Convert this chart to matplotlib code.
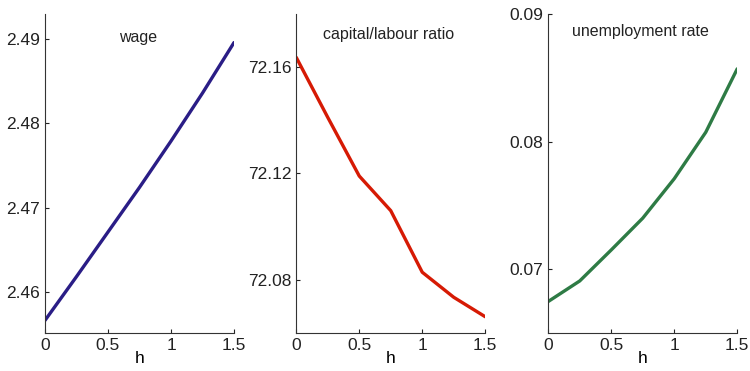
import matplotlib
matplotlib.use("Agg")
import matplotlib.pyplot as plt

plt.rcParams['font.family'] = ['Liberation Sans', 'DejaVu Sans']

h = [0, 0.25, 0.5, 0.75, 1.0, 1.25, 1.5]
wage = [2.4566, 2.4618, 2.4671, 2.4724, 2.4779, 2.4836, 2.4896]
kl_ratio = [72.1635, 72.141, 72.119, 72.106, 72.0829, 72.0735, 72.0662]
unemp = [0.06747, 0.06908, 0.07151, 0.0740, 0.07709, 0.08073, 0.0857]

panels = [
    (wage, '#2a1d86', 'wage', (2.4551, 2.493), [2.46, 2.47, 2.48, 2.49], 0.925),
    (kl_ratio, '#d61a04', 'capital/labour ratio', (72.0601, 72.1798), [72.08, 72.12, 72.16], 0.937),
    (unemp, '#2e7b45', 'unemployment rate', (0.065, 0.09), [0.07, 0.08, 0.09], 0.944),
]
lefts = [0.06, 0.395, 0.731]

fig = plt.figure(figsize=(7.5, 3.71), dpi=100)
for (y, col, title, ylim, yt, ty), left in zip(panels, lefts):
    ax = fig.add_axes([left, 0.1024, 0.252, 0.86])
    ax.plot(h, y, color=col, linewidth=2.4, solid_capstyle='round')
    ax.set_xlim(0, 1.5)
    ax.set_ylim(*ylim)
    ax.set_xticks([0, 0.5, 1, 1.5])
    ax.set_xticklabels(['0', '0.5', '1', '1.5'])
    ax.set_yticks(yt)
    ax.set_yticklabels(['%.2f' % v for v in yt])
    ax.tick_params(direction='in', length=3, labelsize=12.5, colors='#222222')
    ax.spines['top'].set_visible(False)
    ax.spines['right'].set_visible(False)
    for s in ['left', 'bottom']:
        ax.spines[s].set_color('#333333')
        ax.spines[s].set_linewidth(0.8)
    ax.set_xlabel('h', fontsize=12.5, labelpad=-1)
    ax.text(0.49, ty, title, transform=ax.transAxes, ha='center', va='center', fontsize=11.5, color='#222222')

fig.savefig('out.png', dpi=100)
